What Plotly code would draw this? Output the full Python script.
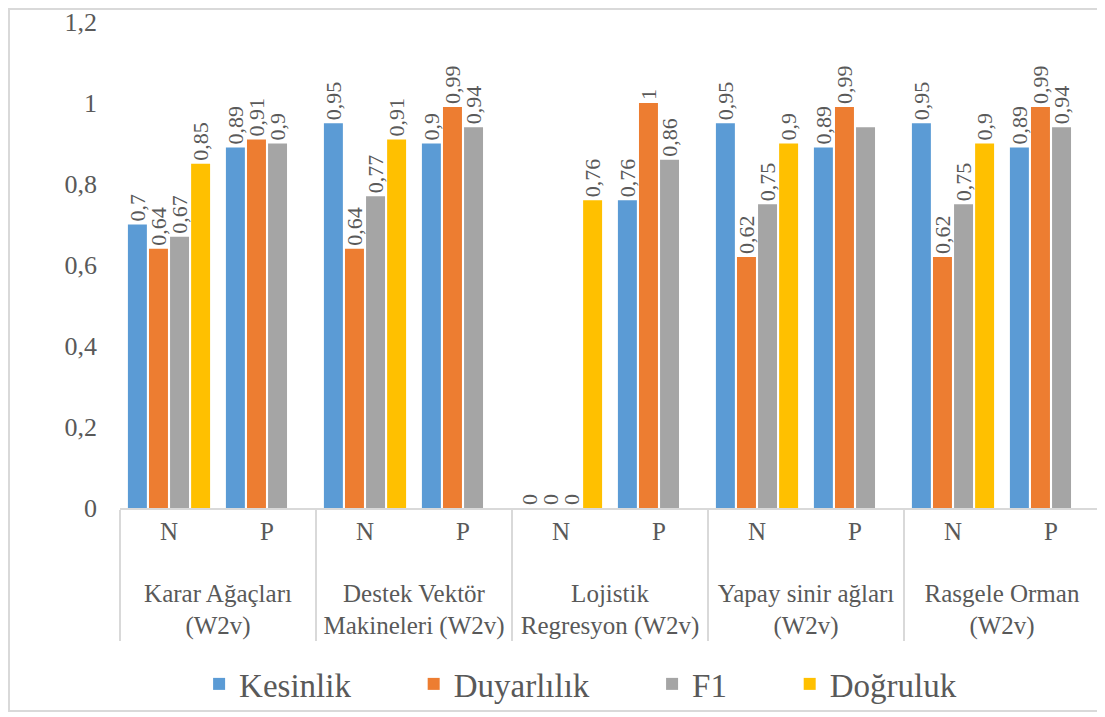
import plotly.graph_objects as go

# Cores no estilo do Excel
CORES = {
    'kesinlik': '#5B9BD5',
    'duyarlilik': '#ED7D31',
    'f1': '#A5A5A5',
    'dogruluk': '#FFC000',
    'texto': '#595959',
    'linha': '#D9D9D9'
}
FONTE = 'Liberation Serif'

modelos = ['Karar Ağaçları<br>(W2v)', 'Destek Vektör<br>Makineleri (W2v)',
           'Lojistik<br>Regresyon (W2v)', 'Yapay sinir ağları<br>(W2v)',
           'Rasgele Orman<br>(W2v)']
classes = ['N', 'P']

kesinlik = [0.7, 0.89, 0.95, 0.9, 0, 0.76, 0.95, 0.89, 0.95, 0.89]
duyarlilik = [0.64, 0.91, 0.64, 0.99, 0, 1, 0.62, 0.99, 0.62, 0.99]
f1 = [0.67, 0.9, 0.77, 0.94, 0, 0.86, 0.75, 0.94, 0.75, 0.94]
dogruluk = [0.85, None, 0.91, None, 0.76, None, 0.9, None, 0.9, None]

# rótulo escondido no original (Yapay sinir ağları / P / F1)
rotulos_ocultos = {('F1', 7)}

# <br> inicial para afastar o rótulo externo do N/P
x_outer = ['<br>' + m for m in modelos for _ in classes]
x_inner = [c for _ in modelos for c in classes]


def rotulo(v):
    if v is None:
        return ''
    return f'{v:g}'.replace('.', ',')


series = [
    ('Kesinlik', kesinlik, CORES['kesinlik']),
    ('Duyarlılık', duyarlilik, CORES['duyarlilik']),
    ('F1', f1, CORES['f1']),
    ('Doğruluk', dogruluk, CORES['dogruluk']),
]

fig = go.Figure()
for k, (nome, valores, cor) in enumerate(series):
    textos = ['' if (nome, i) in rotulos_ocultos else rotulo(v)
              for i, v in enumerate(valores)]
    # espaço extra entre os itens da legenda
    nome_legenda = nome + ('\u00a0' * 7 if k < len(series) - 1 else '')
    fig.add_trace(go.Bar(
        name=nome_legenda,
        x=[x_outer, x_inner],
        y=valores,
        marker_color=cor,
        text=textos,
        textposition='outside',
        textangle=-90,
        constraintext='none',
        textfont=dict(family=FONTE, size=22, color=CORES['texto']),
        cliponaxis=False
    ))

# o navegador põe 8px de margem no body: margens compensadas
fig.update_layout(
    template='none',
    width=1105,
    height=717,
    barmode='group',
    bargap=0.14,
    bargroupgap=0.1,
    separators=', ',
    plot_bgcolor='white',
    paper_bgcolor='white',
    font=dict(family=FONTE, color=CORES['texto']),
    margin=dict(l=112, r=13, t=14, b=217, autoexpand=False),
    xaxis=dict(
        showgrid=False,
        showline=True,
        linecolor=CORES['linha'],
        linewidth=2,
        showdividers=True,
        dividercolor=CORES['linha'],
        dividerwidth=2,
        tickfont=dict(family=FONTE, size=25, color=CORES['texto']),
        ticks=''
    ),
    yaxis=dict(
        range=[0, 1.2],
        dtick=0.2,
        showgrid=False,
        zeroline=False,
        showline=False,
        ticks='',
        ticklabelstandoff=22,
        tickfont=dict(family=FONTE, size=26, color=CORES['texto'])
    ),
    legend=dict(
        orientation='h',
        x=0.47,
        xanchor='center',
        y=-0.362,
        yanchor='middle',
        bgcolor='rgba(0,0,0,0)',
        font=dict(family=FONTE, size=33, color=CORES['texto']),
        itemwidth=30,
        traceorder='normal'
    ),
    shapes=[dict(
        type='rect', xref='paper', yref='paper',
        x0=-111 / 980, x1=1, y0=-203 / 486, y1=1 + 13 / 486,
        line=dict(color=CORES['linha'], width=2)
    )]
)

fig.write_html('out.html')
